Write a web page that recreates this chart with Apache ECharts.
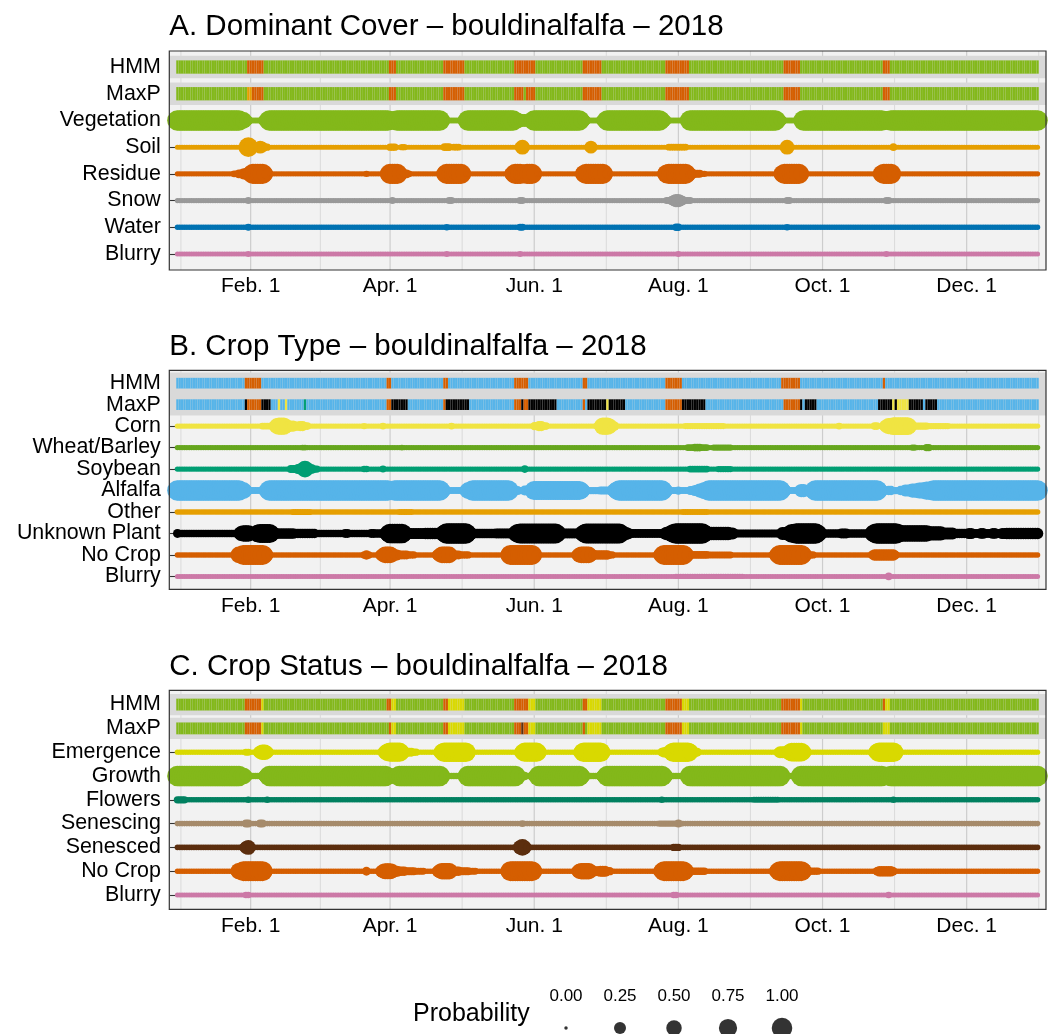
<!DOCTYPE html>
<html><head><meta charset="utf-8">
<script src="https://cdn.jsdelivr.net/npm/echarts@6/dist/echarts.min.js"></script>
<style>html,body{margin:0;padding:0;background:#fff}#c{width:1052px;height:1034px}</style>
</head><body><div id="c"></div>
<script>
// ================= DATA =================
const xTickDays = [32, 91, 152, 213, 274, 335];
const xTickLabels = ['Feb. 1', 'Apr. 1', 'Jun. 1', 'Aug. 1', 'Oct. 1', 'Dec. 1'];
const xMinorDays = [2.5, 61.5, 121.5, 182.5, 243.5, 304.5, 365.5];
const probLegend = [0, 0.25, 0.5, 0.75, 1];
const probLegendLabels = ['0.00', '0.25', '0.50', '0.75', '1.00'];

// ---- Panel A: Dominant Cover ----
const titleA = 'A. Dominant Cover – bouldinalfalfa – 2018';
const classesA = ['Vegetation', 'Soil', 'Residue', 'Snow', 'Water', 'Blurry'];
const colorsA = ['#83B81A', '#E69F00', '#D55E00', '#999999', '#0072B2', '#CC79A7'];
const hmmDefaultA = 'Vegetation';
const hmmA = [[31,37,'Residue'],[91,93,'Residue'],[114,122,'Residue'],[144,152,'Residue'],[173,180,'Residue'],[208,217,'Residue'],[258,264,'Residue'],[300,302,'Residue']];
const maxpA = [[31,32,'Soil'],[33,37,'Residue'],[91,93,'Residue'],[114,122,'Residue'],[144,147,'Residue'],[149,152,'Residue'],[173,180,'Residue'],[208,217,'Residue'],[258,264,'Residue'],[300,302,'Residue']];
const baseA = [1, 0.008, 0.01, 0.01, 0.012, 0.008];
const vegetationA = [[28,29,0.6],[30,30,0.3],[31,31,0.12],[32,36,0.02],[37,37,0.12],[38,38,0.3],[39,39,0.6],[91,93,0.75],[113,113,0.5],[114,114,0.2],[115,121,0.02],[122,122,0.2],[123,123,0.5],[144,145,0.5],[146,150,0.3],[151,151,0.5],[172,172,0.6],[173,173,0.3],[174,174,0.12],[175,179,0.02],[180,180,0.12],[181,181,0.3],[182,182,0.6],[206,206,0.6],[207,207,0.35],[208,208,0.15],[209,215,0.02],[216,216,0.15],[217,217,0.45],[255,255,0.6],[256,256,0.3],[257,257,0.12],[258,263,0.02],[264,264,0.12],[265,265,0.4],[300,302,0.8]];
const soilA = [[29,29,0.05],[30,30,0.25],[31,31,0.9],[32,32,0.4],[33,35,0.15],[36,36,0.3],[37,37,0.2],[38,39,0.05],[91,93,0.05],[96,97,0.03],[114,116,0.06],[118,120,0.04],[146,146,0.2],[147,147,0.45],[148,148,0.15],[175,175,0.1],[176,176,0.3],[177,177,0.1],[209,216,0.04],[258,258,0.1],[259,259,0.45],[260,260,0.1],[304,304,0.06]];
const residueA = [[25,26,0.04],[27,28,0.1],[29,30,0.2],[31,31,0.35],[32,32,0.6],[33,37,0.95],[38,38,0.6],[39,39,0.2],[81,81,0.03],[90,90,0.5],[91,94,0.95],[95,95,0.5],[96,96,0.25],[97,98,0.1],[99,99,0.04],[114,114,0.6],[115,121,0.95],[122,122,0.5],[142,142,0.3],[143,143,0.6],[144,146,0.95],[147,148,0.8],[149,151,0.95],[152,152,0.5],[172,172,0.3],[173,173,0.7],[174,181,0.95],[182,182,0.5],[183,183,0.15],[207,207,0.4],[208,208,0.8],[209,216,0.95],[217,217,0.6],[218,219,0.15],[220,222,0.07],[223,224,0.03],[256,256,0.3],[257,257,0.7],[258,264,0.95],[265,265,0.5],[266,266,0.1],[298,298,0.3],[299,299,0.7],[300,303,0.95],[304,304,0.4],[305,305,0.1]];
const snowA = [[31,31,0.04],[92,92,0.04],[116,117,0.04],[146,147,0.04],[208,209,0.04],[210,210,0.1],[211,211,0.2],[212,213,0.33],[214,214,0.2],[215,215,0.1],[216,218,0.04],[259,260,0.04],[301,302,0.04]];
const waterA = [[31,31,0.04],[115,115,0.03],[146,147,0.04],[212,213,0.05],[259,259,0.03]];
const blurryA = [[31,31,0.02],[115,115,0.02],[146,146,0.02],[213,213,0.02],[301,301,0.02]];

// ---- Panel B: Crop Type ----
const titleB = 'B. Crop Type – bouldinalfalfa – 2018';
const classesB = ['Corn', 'Wheat/Barley', 'Soybean', 'Alfalfa', 'Other', 'Unknown Plant', 'No Crop', 'Blurry'];
const colorsB = ['#F0E442', '#66A61E', '#009E73', '#56B4E9', '#E69F00', '#000000', '#D55E00', '#CC79A7'];
const hmmDefaultB = 'Alfalfa';
const hmmB = [[30,36,'No Crop'],[90,91,'No Crop'],[114,115,'No Crop'],[144,149,'No Crop'],[173,174,'No Crop'],[208,214,'No Crop'],[257,264,'No Crop'],[300,300,'No Crop']];
const maxpB = [[30,30,'Unknown Plant'],[31,36,'No Crop'],[37,40,'Unknown Plant'],[44,44,'Corn'],[47,47,'Corn'],[55,55,'Soybean'],[90,91,'No Crop'],[92,98,'Unknown Plant'],[114,114,'No Crop'],[115,124,'Unknown Plant'],[144,146,'No Crop'],[147,147,'Unknown Plant'],[148,149,'No Crop'],[150,161,'Unknown Plant'],[173,173,'No Crop'],[175,182,'Unknown Plant'],[183,183,'Corn'],[184,190,'Unknown Plant'],[208,214,'No Crop'],[215,224,'Unknown Plant'],[258,264,'No Crop'],[265,265,'Unknown Plant'],[267,271,'Unknown Plant'],[298,303,'Unknown Plant'],[304,304,'Corn'],[305,305,'Unknown Plant'],[306,310,'Corn'],[311,316,'Unknown Plant'],[318,322,'Unknown Plant']];
const baseB = [0.012, 0.012, 0.012, 1, 0.015, 0.06, 0.012, 0.008];
const cornB = [[37,40,0.04],[42,42,0.2],[43,43,0.5],[44,46,0.65],[47,47,0.4],[48,48,0.15],[49,50,0.2],[51,52,0.12],[53,54,0.15],[55,56,0.06],[80,80,0.03],[88,88,0.04],[117,117,0.04],[152,153,0.08],[154,155,0.15],[156,157,0.06],[179,179,0.1],[180,180,0.3],[181,183,0.65],[184,184,0.45],[185,186,0.12],[216,232,0.022],[281,281,0.04],[296,297,0.06],[300,300,0.15],[301,301,0.35],[302,303,0.55],[304,310,0.7],[311,311,0.4],[312,312,0.15],[313,318,0.05],[319,327,0.025]];
const wheatB = [[54,55,0.02],[96,96,0.02],[217,219,0.035],[220,222,0.06],[223,225,0.035],[228,235,0.025],[312,313,0.025],[318,319,0.05]];
const soybeanB = [[49,51,0.07],[52,53,0.15],[54,54,0.35],[55,55,0.6],[56,56,0.35],[57,58,0.12],[59,60,0.05],[80,81,0.03],[88,88,0.04],[148,148,0.06],[218,225,0.035],[230,235,0.025]];
const alfalfaB = [[28,29,0.6],[30,30,0.3],[31,31,0.12],[32,36,0.04],[37,37,0.12],[38,38,0.3],[39,39,0.6],[91,92,0.75],[113,113,0.6],[114,114,0.3],[115,115,0.1],[116,121,0.04],[122,122,0.1],[123,123,0.3],[124,125,0.6],[142,142,0.6],[143,143,0.3],[144,145,0.1],[146,147,0.05],[148,150,0.15],[151,151,0.4],[152,171,0.85],[172,172,0.6],[173,173,0.3],[174,174,0.12],[175,179,0.05],[180,184,0.07],[185,185,0.2],[186,186,0.45],[187,187,0.75],[207,207,0.6],[208,208,0.3],[209,209,0.1],[210,212,0.04],[213,213,0.08],[214,217,0.04],[218,219,0.1],[220,221,0.2],[222,223,0.4],[224,225,0.65],[257,257,0.6],[258,258,0.3],[259,259,0.1],[260,263,0.04],[264,264,0.15],[265,266,0.33],[267,268,0.08],[269,269,0.3],[270,270,0.6],[298,298,0.6],[299,299,0.3],[300,301,0.07],[302,303,0.12],[304,306,0.05],[307,308,0.12],[309,311,0.25],[312,314,0.4],[315,317,0.55],[318,320,0.75]];
const otherB = [[50,57,0.025],[95,100,0.02],[215,225,0.02]];
const unknownB = [[1,1,0.1],[27,27,0.2],[28,28,0.45],[29,31,0.6],[32,32,0.35],[33,33,0.2],[34,34,0.4],[35,35,0.7],[36,40,0.85],[41,41,0.5],[42,42,0.3],[43,50,0.17],[51,59,0.12],[72,73,0.1],[83,84,0.1],[85,88,0.09],[89,89,0.3],[90,90,0.55],[91,96,0.9],[97,97,0.55],[98,98,0.3],[99,105,0.2],[106,112,0.22],[113,113,0.4],[114,114,0.7],[115,123,1],[124,124,0.6],[125,125,0.35],[126,135,0.13],[136,143,0.15],[144,144,0.5],[145,145,0.8],[146,161,0.95],[162,162,0.6],[163,163,0.3],[164,171,0.15],[172,172,0.4],[173,173,0.7],[174,188,0.95],[189,189,0.6],[190,191,0.3],[192,192,0.2],[193,206,0.1],[207,207,0.2],[208,209,0.35],[210,210,0.6],[211,211,0.85],[212,223,1],[224,224,0.7],[225,225,0.45],[226,234,0.35],[235,236,0.25],[237,256,0.07],[257,259,0.3],[260,260,0.5],[261,262,0.8],[263,271,1],[272,272,0.7],[273,273,0.4],[274,281,0.08],[282,284,0.15],[285,293,0.08],[294,294,0.15],[295,295,0.5],[296,296,0.8],[297,305,1],[306,306,0.8],[307,318,0.6],[319,324,0.4],[325,329,0.25],[330,335,0.12],[336,337,0.2],[338,340,0.1],[341,342,0.18],[343,345,0.1],[346,347,0.18],[348,349,0.1],[350,351,0.2],[352,365,0.22]];
const nocropB = [[26,26,0.2],[27,28,0.6],[29,37,0.95],[38,38,0.6],[39,39,0.25],[40,40,0.08],[80,80,0.05],[81,81,0.12],[82,82,0.05],[87,87,0.2],[88,88,0.4],[89,91,0.6],[92,92,0.4],[93,94,0.2],[95,98,0.1],[99,101,0.05],[111,111,0.2],[112,112,0.4],[113,116,0.6],[117,117,0.3],[118,120,0.1],[121,124,0.05],[140,140,0.2],[141,141,0.5],[142,151,0.95],[152,152,0.5],[153,153,0.15],[170,170,0.2],[171,171,0.45],[172,175,0.6],[176,176,0.35],[177,183,0.12],[184,185,0.05],[205,205,0.3],[206,206,0.6],[207,215,0.95],[216,216,0.6],[217,217,0.3],[218,225,0.06],[226,235,0.04],[254,254,0.3],[255,255,0.6],[256,265,0.95],[266,266,0.6],[267,267,0.25],[268,270,0.05],[295,295,0.1],[296,304,0.22],[305,305,0.08]];
const blurryB = [[212,240,0.012],[302,302,0.06]];

// ---- Panel C: Crop Status ----
const titleC = 'C. Crop Status – bouldinalfalfa – 2018';
const classesC = ['Emergence', 'Growth', 'Flowers', 'Senescing', 'Senesced', 'No Crop', 'Blurry'];
const colorsC = ['#D9D900', '#83B81A', '#008060', '#A68B6B', '#5C2E0E', '#D55E00', '#CC79A7'];
const hmmDefaultC = 'Growth';
const hmmC = [[30,36,'No Crop'],[37,37,'Emergence'],[90,91,'No Crop'],[92,93,'Emergence'],[114,115,'No Crop'],[116,122,'Emergence'],[144,149,'No Crop'],[150,152,'Emergence'],[173,174,'No Crop'],[175,180,'Emergence'],[208,214,'No Crop'],[215,217,'Emergence'],[257,264,'No Crop'],[265,265,'Emergence'],[300,300,'No Crop'],[301,302,'Emergence']];
const maxpC = [[30,36,'No Crop'],[37,37,'Emergence'],[91,91,'No Crop'],[92,93,'Emergence'],[114,115,'No Crop'],[116,122,'Emergence'],[144,146,'No Crop'],[147,147,'Senesced'],[148,149,'No Crop'],[150,152,'Emergence'],[173,173,'No Crop'],[175,180,'Emergence'],[208,214,'No Crop'],[215,217,'Emergence'],[257,264,'No Crop'],[265,265,'Emergence'],[300,302,'Emergence']];
const baseC = [0.012, 1, 0.015, 0.015, 0.015, 0.012, 0.008];
const emergenceC = [[30,31,0.04],[35,35,0.15],[36,36,0.35],[37,38,0.5],[39,39,0.3],[40,40,0.1],[88,88,0.2],[89,89,0.45],[90,90,0.7],[91,95,0.85],[96,96,0.5],[97,97,0.25],[98,100,0.1],[101,102,0.05],[112,112,0.3],[113,113,0.6],[114,123,0.9],[124,124,0.5],[125,125,0.15],[146,146,0.25],[147,147,0.55],[148,153,0.85],[154,154,0.5],[155,155,0.15],[171,171,0.25],[172,172,0.55],[173,180,0.9],[181,181,0.5],[182,182,0.15],[206,206,0.1],[207,208,0.17],[209,209,0.3],[210,210,0.6],[211,217,0.9],[218,218,0.6],[219,219,0.3],[220,221,0.1],[255,255,0.08],[256,258,0.25],[259,259,0.3],[260,260,0.55],[261,265,0.8],[266,266,0.5],[267,267,0.2],[296,296,0.3],[297,297,0.6],[298,304,0.9],[305,305,0.5],[306,306,0.15]];
const growthC = [[28,29,0.6],[30,30,0.3],[31,31,0.12],[32,36,0.03],[37,37,0.12],[38,38,0.3],[39,39,0.6],[90,90,0.7],[91,93,0.45],[94,94,0.7],[113,113,0.5],[114,114,0.2],[115,121,0.03],[122,122,0.2],[123,123,0.5],[145,145,0.5],[146,146,0.25],[147,148,0.08],[149,150,0.03],[151,151,0.1],[152,152,0.25],[153,153,0.5],[172,172,0.6],[173,173,0.3],[174,174,0.12],[175,179,0.03],[180,180,0.12],[181,181,0.3],[182,182,0.6],[207,207,0.6],[208,208,0.3],[209,209,0.12],[210,215,0.03],[216,216,0.15],[217,217,0.4],[257,257,0.5],[258,258,0.2],[259,262,0.03],[263,263,0.2],[264,264,0.5],[300,302,0.8]];
const flowersC = [[1,4,0.05],[31,31,0.03],[39,39,0.03],[206,206,0.03],[245,255,0.02],[304,304,0.03]];
const senescingC = [[30,31,0.07],[36,37,0.07],[147,147,0.04],[205,212,0.03],[213,213,0.07],[214,214,0.03]];
const senescedC = [[29,29,0.1],[30,30,0.3],[31,31,0.45],[32,32,0.15],[145,145,0.1],[146,146,0.4],[147,147,0.6],[148,148,0.35],[149,149,0.08],[211,213,0.05]];
const nocropC = [[26,26,0.25],[27,28,0.6],[29,37,0.95],[38,38,0.5],[39,39,0.15],[81,81,0.1],[87,87,0.2],[88,88,0.4],[89,91,0.55],[92,92,0.4],[93,94,0.2],[95,97,0.12],[98,101,0.07],[102,105,0.04],[111,111,0.2],[112,112,0.4],[113,116,0.6],[117,117,0.3],[118,120,0.13],[121,124,0.07],[125,127,0.04],[140,140,0.2],[141,141,0.5],[142,151,0.95],[152,152,0.55],[153,153,0.2],[170,170,0.2],[171,171,0.45],[172,175,0.6],[176,176,0.35],[177,179,0.15],[180,182,0.2],[183,184,0.08],[205,205,0.3],[206,206,0.6],[207,215,0.95],[216,216,0.6],[217,217,0.3],[218,224,0.06],[254,254,0.3],[255,255,0.6],[256,265,0.95],[266,266,0.6],[267,267,0.25],[268,272,0.05],[297,297,0.08],[298,303,0.17],[304,304,0.08]];
const blurryC = [[30,31,0.03],[211,212,0.03],[302,302,0.03]];

// ================= BUILD =================
const NDAYS = 365;
const X_MIN = -2.43, X_MAX = 368.57;
const FONT = '"Liberation Sans", Arial, Helvetica, sans-serif';
const PLOT_LEFT = 169.3, PLOT_W = 876.7, PLOT_H = 219;

const panels = [
  { title: titleA, classes: classesA, colors: colorsA, hmm: hmmA, maxp: maxpA, def: hmmDefaultA, base: baseA,
    probs: [vegetationA, soilA, residueA, snowA, waterA, blurryA], top: 51, bandPx: 22.3 },
  { title: titleB, classes: classesB, colors: colorsB, hmm: hmmB, maxp: maxpB, def: hmmDefaultB, base: baseB,
    probs: [cornB, wheatB, soybeanB, alfalfaB, otherB, unknownB, nocropB, blurryB], top: 370.3, bandPx: 21.6 },
  { title: titleC, classes: classesC, colors: colorsC, hmm: hmmC, maxp: maxpC, def: hmmDefaultC, base: baseC,
    probs: [emergenceC, growthC, flowersC, senescingC, senescedC, nocropC, blurryC], top: 690.3, bandPx: 21.2 }
];

function expandProb(base, segs) {
  const v = new Array(NDAYS).fill(base);
  segs.forEach(([s, e, p]) => { for (let d = s; d <= e; d++) v[d - 1] = p; });
  return v;
}
function expandClass(def, runs) {
  const v = new Array(NDAYS).fill(def);
  runs.forEach(([s, e, c]) => { for (let d = s; d <= e; d++) v[d - 1] = c; });
  return v;
}
const sizeOf = p => 3.5 + 17 * Math.sqrt(p);

const grids = [], xAxes = [], yAxes = [], series = [], titles = [], graphics = [];

panels.forEach((P, i) => {
  const rows = ['HMM', 'MaxP'].concat(P.classes);
  const n = rows.length;
  const rowIdx = rows.map((r, k) => k);
  grids.push({ left: PLOT_LEFT, width: PLOT_W, top: P.top, height: PLOT_H, show: true,
    backgroundColor: '#F2F2F2', borderWidth: 0 });
  xAxes.push({ gridIndex: i, type: 'value', min: X_MIN, max: X_MAX,
    axisLine: { show: false }, splitLine: { show: false },
    axisTick: { show: true, customValues: xTickDays, length: 5, lineStyle: { color: '#333', width: 1.1 } },
    axisLabel: { customValues: xTickDays, formatter: v => xTickLabels[xTickDays.indexOf(Math.round(v))] || '',
      fontSize: 21, color: '#000', margin: 6, fontFamily: FONT } });
  yAxes.push({ gridIndex: i, type: 'value', inverse: true, min: -0.6, max: n - 0.4,
    axisLine: { show: false }, splitLine: { show: false },
    axisTick: { show: true, customValues: rowIdx, length: 5, lineStyle: { color: '#333', width: 1.1 } },
    axisLabel: { customValues: rowIdx, formatter: v => rows[Math.round(v)] || '',
      fontSize: 21.4, lineHeight: 18, color: '#000', margin: 8.5, fontFamily: FONT } });

  // vertical grid lines
  const gl = xTickDays.map(d => [d, 1]).concat(xMinorDays.map(d => [d, 0]));
  series.push({ type: 'custom', xAxisIndex: i, yAxisIndex: i, z: 1, silent: true, animation: false, data: gl,
    renderItem: (params, api) => {
      const cs = params.coordSys;
      const x = api.coord([api.value(0), 0])[0];
      const major = api.value(1) === 1;
      return { type: 'line', shape: { x1: x, y1: cs.y, x2: x, y2: cs.y + cs.height },
        style: { stroke: major ? '#CDCDCD' : '#DADADA', lineWidth: major ? 1.2 : 1 } };
    } });
  // grey bands behind HMM and MaxP
  const bandPx = P.bandPx;
  series.push({ type: 'custom', xAxisIndex: i, yAxisIndex: i, z: 2, silent: true, animation: false,
    data: [[0, 0], [0, 1]],
    renderItem: (params, api) => {
      const cs = params.coordSys;
      const y = api.coord([0, api.value(1)])[1];
      return { type: 'rect', shape: { x: cs.x, y: y - bandPx / 2, width: cs.width, height: bandPx },
        style: { fill: '#D9D9D9' } };
    } });
  // tiles
  const hmmDays = expandClass(P.def, P.hmm);
  const maxpDays = expandClass(P.def, P.maxp);
  const tileData = [];
  hmmDays.forEach((c, k) => tileData.push([k + 1, 0, P.classes.indexOf(c)]));
  maxpDays.forEach((c, k) => tileData.push([k + 1, 1, P.classes.indexOf(c)]));
  const cols = P.colors;
  series.push({ type: 'custom', xAxisIndex: i, yAxisIndex: i, z: 3, silent: true, animation: false,
    progressive: 0, data: tileData,
    renderItem: (params, api) => {
      const d = api.value(0), r = api.value(1);
      const p0 = api.coord([d - 0.5, r]);
      const p1 = api.coord([d + 0.5, r]);
      const h = api.size([0, 0.5])[1];
      return { type: 'rect', shape: { x: p0[0], y: p0[1] - h / 2, width: p1[0] - p0[0], height: h },
        style: { fill: cols[api.value(2)], stroke: 'rgba(255,255,255,0.10)', lineWidth: 0.4 } };
    } });
  // probability points
  P.classes.forEach((cls, k) => {
    const vals = expandProb(P.base[k], P.probs[k]);
    series.push({ type: 'scatter', name: cls, xAxisIndex: i, yAxisIndex: i, z: 4, silent: true,
      animation: false, progressive: 0,
      symbol: 'circle', symbolSize: v => sizeOf(v[2]),
      itemStyle: { color: P.colors[k], opacity: 1 },
      data: vals.map((p, d) => [d + 1, k + 2, p]) });
  });
  titles.push({ text: P.title, left: PLOT_LEFT - 5, top: P.top - 43.8,
    textStyle: { fontSize: 29.5, fontWeight: 'normal', color: '#000', fontFamily: FONT } });
  graphics.push({ type: 'rect', silent: true, z: 100,
    shape: { x: PLOT_LEFT, y: P.top, width: PLOT_W, height: PLOT_H },
    style: { fill: 'rgba(0,0,0,0)', stroke: '#333', lineWidth: 1.2 } });
});

// size legend
const gL = grids.length;
grids.push({ left: 539, width: 270, top: 1022, height: 12, show: false });
xAxes.push({ gridIndex: gL, type: 'category', data: probLegendLabels, position: 'top',
  axisLine: { show: false }, axisTick: { show: false }, splitLine: { show: false },
  axisLabel: { fontSize: 17, color: '#000', margin: 17, fontFamily: FONT, interval: 0 } });
yAxes.push({ gridIndex: gL, type: 'value', min: 0, max: 1, show: false });
series.push({ type: 'scatter', xAxisIndex: gL, yAxisIndex: gL, silent: true, animation: false,
  symbol: 'circle', symbolSize: v => sizeOf(v[2]), itemStyle: { color: '#000' },
  data: probLegend.map((p, k) => [k, 0.5, p]) });
graphics.push({ type: 'text', left: 413, top: 1002, silent: true,
  style: { text: 'Probability', fontSize: 25, fill: '#000', fontFamily: FONT } });

const chart = echarts.init(document.getElementById('c'), null, { renderer: 'canvas' });
chart.setOption({
  animation: false,
  backgroundColor: '#FFFFFF',
  textStyle: { fontFamily: FONT },
  title: titles,
  grid: grids,
  xAxis: xAxes,
  yAxis: yAxes,
  series: series,
  graphic: graphics
});
</script></body></html>
